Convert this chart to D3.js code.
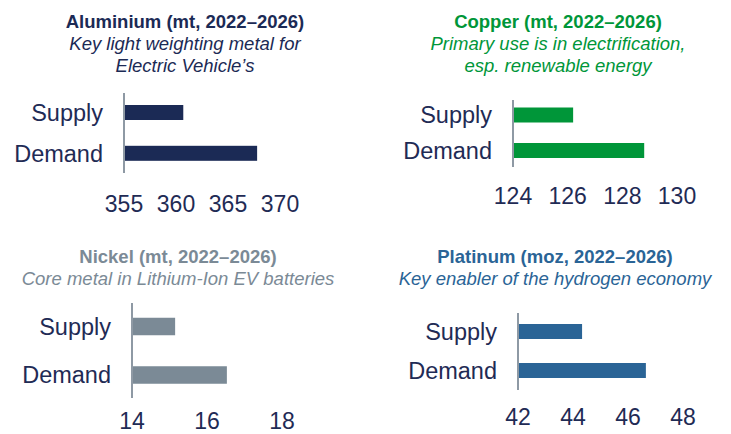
<!DOCTYPE html>
<html>
<head>
<meta charset="utf-8">
<script src="https://cdn.jsdelivr.net/npm/d3@7"></script>
<style>
  html, body { margin: 0; padding: 0; background: #ffffff; }
  svg { display: block; }
  text { font-family: "Liberation Sans", Arial, Helvetica, sans-serif; }
</style>
</head>
<body>
<svg id="chart" width="731" height="434"></svg>
<script>
// ---- data ----
const categories = ["Supply", "Demand"];

const aluminiumValues = [360.7, 367.8];
const copperValues = [126.2, 128.8];
const nickelValues = [15.15, 16.53];
const platinumValues = [44.33, 46.65];

const aluminiumTicks = [355, 360, 365, 370];
const copperTicks = [124, 126, 128, 130];
const nickelTicks = [14, 16, 18];
const platinumTicks = [42, 44, 46, 48];

const panelTitles = ["Aluminium (mt, 2022–2026)", "Copper (mt, 2022–2026)", "Nickel (mt, 2022–2026)", "Platinum (moz, 2022–2026)"];
const panelSubtitles = [
  ["Key light weighting metal for", "Electric Vehicle’s"],
  ["Primary use is in electrification,", "esp. renewable energy"],
  ["Core metal in Lithium-Ion EV batteries"],
  ["Key enabler of the hydrogen economy"]
];

// ---- layout / style (not data) ----
const colors = ["#1b2a55", "#009639", "#7b8a96", "#2a6496"];
const labelColor = "#1f2b55";
const axisColor = "#8e99a4";

const layouts = [
  { values: aluminiumValues, ticks: aluminiumTicks, x0: 124, x1: 280, cy: [112.5, 153.3], barH: 15, axisY: [93, 173], tickY: 212, titleX: 185, titleY: 28 },
  { values: copperValues, ticks: copperTicks, x0: 513, x1: 677, cy: [115, 150.5], barH: 15, axisY: [100, 167], tickY: 204, titleX: 558, titleY: 28 },
  { values: nickelValues, ticks: nickelTicks, x0: 132, x1: 282, cy: [326.5, 375], barH: 17.5, axisY: [303, 398], tickY: 429, titleX: 178, titleY: 263 },
  { values: platinumValues, ticks: platinumTicks, x0: 518, x1: 683, cy: [331.5, 370.5], barH: 15, axisY: [313, 390], tickY: 425, titleX: 555, titleY: 263 }
];

const svg = d3.select("#chart");

layouts.forEach((L, i) => {
  const g = svg.append("g");
  const x = d3.scaleLinear()
    .domain([L.ticks[0], L.ticks[L.ticks.length - 1]])
    .range([L.x0, L.x1]);
  const y = d3.scalePoint().domain(categories).range(L.cy);

  // title
  g.append("text")
    .attr("x", L.titleX).attr("y", L.titleY)
    .attr("text-anchor", "middle")
    .attr("font-size", 18.5).attr("font-weight", "bold")
    .attr("fill", colors[i])
    .text(panelTitles[i]);
  panelSubtitles[i].forEach((s, k) => {
    g.append("text")
      .attr("x", L.titleX).attr("y", L.titleY + 22 * (k + 1))
      .attr("text-anchor", "middle")
      .attr("font-size", 18.5).attr("font-style", "italic")
      .attr("fill", colors[i])
      .text(s);
  });

  // bars
  g.selectAll("rect.bar")
    .data(categories.map((c, k) => ({ c, v: L.values[k] })))
    .join("rect")
    .attr("class", "bar")
    .attr("x", x(L.ticks[0]) + 1)
    .attr("y", d => y(d.c) - L.barH / 2)
    .attr("width", d => x(d.v) - x(L.ticks[0]) - 1)
    .attr("height", L.barH)
    .attr("fill", colors[i]);

  // axis line
  g.append("line")
    .attr("x1", x(L.ticks[0])).attr("x2", x(L.ticks[0]))
    .attr("y1", L.axisY[0]).attr("y2", L.axisY[1])
    .attr("stroke", axisColor).attr("stroke-width", 2);

  // category labels
  g.selectAll("text.cat")
    .data(categories)
    .join("text")
    .attr("class", "cat")
    .attr("x", x(L.ticks[0]) - 21)
    .attr("y", d => y(d))
    .attr("dy", "0.36em")
    .attr("text-anchor", "end")
    .attr("font-size", 23.5)
    .attr("fill", labelColor)
    .text(d => d);

  // tick labels
  g.selectAll("text.tick")
    .data(L.ticks)
    .join("text")
    .attr("class", "tick")
    .attr("x", d => x(d))
    .attr("y", L.tickY)
    .attr("text-anchor", "middle")
    .attr("font-size", 23)
    .attr("fill", labelColor)
    .text(d => d);
});
</script>
</body>
</html>
